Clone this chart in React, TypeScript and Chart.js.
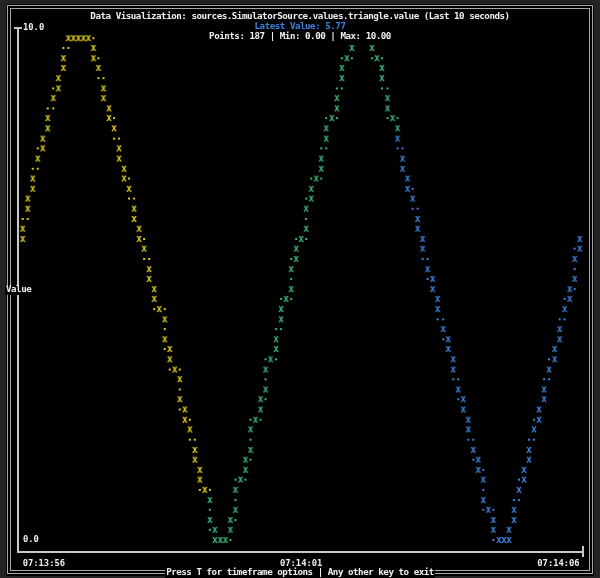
import React, { useEffect, useRef } from 'react';
import { Chart, registerables } from 'chart.js';

Chart.register(...registerables);

// ---- Text content ----
const TITLE = 'Data Visualization: sources.SimulatorSource.values.triangle.value (Last 10 seconds)';
const LATEST = 'Latest Value: 5.77';
const STATS = 'Points: 187 | Min: 0.00 | Max: 10.00';
const FOOTER = 'Press T for timeframe options | Any other key to exit';
const Y_TITLE = 'Value';

// ---- Axes ----
const xTickValues = [0, 5, 10]; // seconds since window start
const xTickLabels = ['07:13:56', '07:14:01', '07:14:06'];
const yTickValues = [0, 10];

// ---- Series (time in seconds, value) ----
const yellowCross: [number, number][] = [
  [0.0, 5.88], [0.0, 6.08], [0.09, 6.47], [0.09, 6.67], [0.18, 6.86], [0.18, 7.06], [0.27, 7.45], [0.36, 7.65],
  [0.36, 7.84], [0.45, 8.04], [0.45, 8.24], [0.55, 8.63], [0.64, 8.82], [0.64, 9.02], [0.73, 9.22], [0.73, 9.41],
  [0.82, 9.8], [0.91, 9.8], [1.0, 9.8], [1.09, 9.8], [1.18, 9.8], [1.27, 9.61], [1.27, 9.41], [1.36, 9.22],
  [1.45, 8.82], [1.45, 8.63], [1.55, 8.43], [1.55, 8.24], [1.64, 8.04], [1.73, 7.65], [1.73, 7.45], [1.82, 7.25],
  [1.82, 7.06], [1.91, 6.86], [2.0, 6.47], [2.0, 6.27], [2.09, 6.08], [2.09, 5.88], [2.18, 5.69], [2.27, 5.29],
  [2.27, 5.1], [2.36, 4.9], [2.36, 4.71], [2.45, 4.51], [2.55, 4.31], [2.55, 3.92], [2.64, 3.73], [2.64, 3.53],
  [2.73, 3.33], [2.82, 3.14], [2.82, 2.75], [2.91, 2.55], [2.91, 2.35], [3.0, 2.16], [3.09, 1.76], [3.09, 1.57],
  [3.18, 1.37], [3.18, 1.18], [3.27, 0.98],
];
const yellowDot: [number, number][] = [
  [0.0, 6.27], [0.09, 6.27], [0.18, 7.25], [0.27, 7.25], [0.27, 7.65], [0.45, 8.43], [0.55, 8.43], [0.55, 8.82],
  [0.73, 9.61], [0.82, 9.61], [1.27, 9.8], [1.36, 9.41], [1.36, 9.02], [1.45, 9.02], [1.64, 8.24], [1.64, 7.84],
  [1.73, 7.84], [1.91, 7.06], [1.91, 6.67], [2.0, 6.67], [2.18, 5.88], [2.18, 5.49], [2.27, 5.49], [2.36, 4.51],
  [2.55, 4.51], [2.55, 4.12], [2.55, 3.73], [2.64, 3.33], [2.82, 3.33], [2.82, 2.94], [2.82, 2.55], [3.0, 2.35],
  [3.0, 1.96], [3.09, 1.96], [3.18, 0.98], [3.36, 0.98],
];
const greenCross: [number, number][] = [
  [3.36, 0.78], [3.36, 0.39], [3.45, 0.2], [3.45, 0.0], [3.55, 0.0], [3.64, 0.0], [3.73, 0.2], [3.73, 0.39],
  [3.82, 0.59], [3.82, 0.98], [3.91, 1.18], [4.0, 1.37], [4.0, 1.57], [4.09, 1.76], [4.09, 2.16], [4.18, 2.35],
  [4.27, 2.55], [4.27, 2.75], [4.36, 2.94], [4.36, 3.33], [4.45, 3.53], [4.55, 3.73], [4.55, 3.92], [4.64, 4.31],
  [4.64, 4.51], [4.73, 4.71], [4.82, 4.9], [4.82, 5.29], [4.91, 5.49], [4.91, 5.69], [5.0, 5.88], [5.09, 6.08],
  [5.09, 6.47], [5.18, 6.67], [5.18, 6.86], [5.27, 7.06], [5.36, 7.25], [5.36, 7.45], [5.45, 7.84], [5.45, 8.04],
  [5.55, 8.24], [5.64, 8.43], [5.64, 8.63], [5.73, 9.02], [5.73, 9.22], [5.82, 9.41], [5.91, 9.61], [6.27, 9.61],
  [6.36, 9.41], [6.45, 9.22], [6.45, 9.02], [6.55, 8.63], [6.55, 8.43], [6.64, 8.24], [6.73, 8.04],
];
const greenDot: [number, number][] = [
  [3.36, 0.59], [3.36, 0.2], [3.73, 0.0], [3.82, 0.39], [3.82, 0.78], [3.82, 1.18], [4.0, 1.18], [4.09, 1.57],
  [4.09, 1.96], [4.09, 2.35], [4.27, 2.35], [4.36, 2.75], [4.36, 3.14], [4.36, 3.53], [4.55, 3.53], [4.55, 4.12],
  [4.64, 4.12], [4.64, 4.71], [4.82, 4.71], [4.82, 5.1], [4.82, 5.49], [4.91, 5.88], [5.09, 5.88], [5.09, 6.27],
  [5.09, 6.67], [5.18, 7.06], [5.36, 7.06], [5.36, 7.65], [5.45, 7.65], [5.45, 8.24], [5.64, 8.24], [5.64, 8.82],
  [5.73, 8.82], [5.73, 9.41], [5.91, 9.41], [6.27, 9.41], [6.45, 9.41], [6.45, 8.82], [6.55, 8.82], [6.55, 8.24],
  [6.73, 8.24],
];
const blueCross: [number, number][] = [
  [6.73, 7.84], [6.82, 7.45], [6.82, 7.25], [6.91, 7.06], [6.91, 6.86], [7.0, 6.67], [7.09, 6.27], [7.09, 6.08],
  [7.18, 5.88], [7.18, 5.69], [7.27, 5.29], [7.36, 5.1], [7.36, 4.9], [7.45, 4.71], [7.45, 4.51], [7.55, 4.12],
  [7.64, 3.92], [7.64, 3.73], [7.73, 3.53], [7.73, 3.33], [7.82, 2.94], [7.91, 2.75], [7.91, 2.55], [8.0, 2.35],
  [8.0, 2.16], [8.09, 1.76], [8.18, 1.57], [8.18, 1.37], [8.27, 1.18], [8.27, 0.78], [8.36, 0.59], [8.45, 0.39],
  [8.45, 0.2], [8.55, 0.0], [8.64, 0.0], [8.73, 0.0], [8.73, 0.2], [8.82, 0.39], [8.82, 0.59], [8.91, 0.98],
  [9.0, 1.18], [9.0, 1.37], [9.09, 1.57], [9.09, 1.76], [9.18, 2.16], [9.27, 2.35], [9.27, 2.55], [9.36, 2.75],
  [9.36, 2.94], [9.45, 3.33], [9.55, 3.53], [9.55, 3.73], [9.64, 3.92], [9.64, 4.12], [9.73, 4.51], [9.82, 4.71],
  [9.82, 4.9], [9.91, 5.1], [9.91, 5.49], [10.0, 5.69], [10.0, 5.88],
];
const blueDot: [number, number][] = [
  [6.73, 7.65], [6.82, 7.65], [7.0, 6.86], [7.0, 6.47], [7.09, 6.47], [7.18, 5.49], [7.27, 5.49], [7.27, 5.1],
  [7.45, 4.31], [7.55, 4.31], [7.55, 3.92], [7.73, 3.14], [7.82, 3.14], [7.82, 2.75], [8.0, 1.96], [8.09, 1.96],
  [8.09, 1.57], [8.27, 1.37], [8.27, 0.98], [8.27, 0.59], [8.45, 0.59], [8.45, 0.0], [8.82, 0.78], [8.91, 0.78],
  [8.91, 1.18], [9.09, 1.96], [9.18, 1.96], [9.18, 2.35], [9.36, 3.14], [9.45, 3.14], [9.45, 3.53], [9.64, 4.31],
  [9.73, 4.31], [9.73, 4.71], [9.91, 4.9], [9.91, 5.29], [9.91, 5.69],
];

const YELLOW = '#dcc81c';
const GREEN = '#3db477';
const BLUE = '#3d82da';
const TEXT = '#f0f0f0';
const FRAME = '#a9a9a9';
const MONO = '"DejaVu Sans Mono", "Liberation Mono", monospace';
const FONT = `bold 9.2px ${MONO}`;

function makeGlyph(ch: string, color: string): HTMLCanvasElement {
  const c = document.createElement('canvas');
  c.width = 8;
  c.height = 12;
  const g = c.getContext('2d')!;
  g.fillStyle = color;
  if (ch === 'x') {
    g.font = `bold 10px ${MONO}`;
    g.textAlign = 'center';
    g.textBaseline = 'alphabetic';
    g.fillText(ch, 4, 9);
  } else {
    g.fillRect(3, 5, 2, 2);
  }
  return c;
}

const toPts = (a: [number, number][]) => a.map(([x, y]) => ({ x, y }));

function monoText(ctx: CanvasRenderingContext2D, s: string, x: number, y: number) {
  (ctx as any).letterSpacing = '-0.48px';
  ctx.fillText(s, x, y);
  (ctx as any).letterSpacing = '0px';
}

const decorPlugin = {
  id: 'terminalDecor',
  beforeDraw(chart: any) {
    const ctx = chart.ctx as CanvasRenderingContext2D;
    const W = chart.width;
    const H = chart.height;
    ctx.save();
    ctx.fillStyle = '#232323';
    ctx.fillRect(0, 0, W, H);
    ctx.fillStyle = '#000';
    ctx.fillRect(6, 4, W - 12, H - 6);
    ctx.strokeStyle = FRAME;
    ctx.lineWidth = 1;
    ctx.strokeRect(7.5, 5.5, W - 15, H - 10);
    ctx.strokeRect(10.5, 8.5, W - 21, H - 16);
    ctx.restore();
  },
  afterDraw(chart: any) {
    const ctx = chart.ctx as CanvasRenderingContext2D;
    const W = chart.width;
    const area = chart.chartArea;
    ctx.save();
    ctx.font = FONT;
    ctx.textBaseline = 'middle';
    ctx.textAlign = 'center';
    ctx.fillStyle = TEXT;
    monoText(ctx, TITLE, W / 2, 17);
    ctx.fillStyle = BLUE;
    monoText(ctx, LATEST, W / 2, 27);
    ctx.fillStyle = TEXT;
    monoText(ctx, STATS, W / 2, 37);

    // axis decorations: tee at top of y axis, end tick of x axis
    ctx.strokeStyle = '#c8c8c8';
    ctx.lineWidth = 2;
    ctx.beginPath();
    ctx.moveTo(area.left - 4, area.top);
    ctx.lineTo(area.left + 4, area.top);
    ctx.moveTo(area.right, area.bottom - 6);
    ctx.lineTo(area.right, area.bottom + 5);
    ctx.stroke();

    // footer embedded in bottom frame
    (ctx as any).letterSpacing = '-0.48px';
    const fw = ctx.measureText(FOOTER).width;
    (ctx as any).letterSpacing = '0px';
    ctx.fillStyle = '#000';
    ctx.fillRect(W / 2 - fw / 2 - 1, 568, fw + 2, 10);
    ctx.fillStyle = TEXT;
    monoText(ctx, FOOTER, W / 2, 573);

    // y-axis title
    ctx.textAlign = 'left';
    ctx.fillStyle = '#000';
    ctx.fillRect(5, 285, 27, 10);
    ctx.fillStyle = TEXT;
    monoText(ctx, Y_TITLE, 6, 290);
    ctx.restore();
  },
};

export default function App() {
  const ref = useRef<HTMLCanvasElement | null>(null);
  useEffect(() => {
    if (!ref.current) return;
    const ds = (data: [number, number][], ch: string, color: string, label: string) => ({
      label,
      data: toPts(data),
      pointStyle: makeGlyph(ch, color),
      pointRadius: 3,
      pointHoverRadius: 3,
      backgroundColor: color,
      borderColor: color,
      showLine: false,
    });
    const chart = new Chart(ref.current, {
      type: 'scatter',
      data: {
        datasets: [
          ds(yellowCross, 'x', YELLOW, 'yellow x'),
          ds(yellowDot, '·', YELLOW, 'yellow ·'),
          ds(greenCross, 'x', GREEN, 'green x'),
          ds(greenDot, '·', GREEN, 'green ·'),
          ds(blueCross, 'x', BLUE, 'blue x'),
          ds(blueDot, '·', BLUE, 'blue ·'),
        ],
      },
      options: {
        responsive: false,
        devicePixelRatio: 1,
        animation: false,
        events: [],
        layout: { padding: { left: 18, right: 17, top: 28, bottom: 6 } },
        plugins: { legend: { display: false }, tooltip: { enabled: false }, title: { display: false } },
        scales: {
          x: {
            type: 'linear',
            min: -0.084,
            max: 10.06,
            grid: { display: false, drawTicks: false },
            border: { display: true, color: '#c8c8c8', width: 2 },
            afterBuildTicks: (s: any) => {
              s.ticks = xTickValues.map((value) => ({ value }));
            },
            afterFit: (s: any) => {
              s.height = 20;
            },
            ticks: {
              align: 'inner',
              autoSkip: false,
              maxRotation: 0,
              padding: 6,
              color: TEXT,
              font: { family: MONO, size: 8.8, weight: 'bold' },
              callback: (v: any) => xTickLabels[xTickValues.indexOf(Number(v))] ?? '',
            },
          },
          y: {
            type: 'linear',
            min: -0.234,
            max: 10,
            grid: { display: false, drawTicks: false },
            border: { display: true, color: '#c8c8c8', width: 2 },
            afterBuildTicks: (s: any) => {
              s.ticks = yTickValues.map((value) => ({ value }));
            },
            afterFit: (s: any) => {
              s.width = 0;
            },
            ticks: {
              mirror: true,
              padding: 5,
              autoSkip: false,
              color: TEXT,
              font: { family: MONO, size: 8.8, weight: 'bold' },
              callback: (v: any) => Number(v).toFixed(1),
            },
          },
        },
      },
      plugins: [decorPlugin],
    } as any);
    return () => chart.destroy();
  }, []);

  return (
    <div style={{ position: 'absolute', left: 0, top: 0, width: 600, height: 578, background: '#000' }}>
      <canvas ref={ref} width={600} height={578} style={{ display: 'block', width: 600, height: 578 }} />
    </div>
  );
}
